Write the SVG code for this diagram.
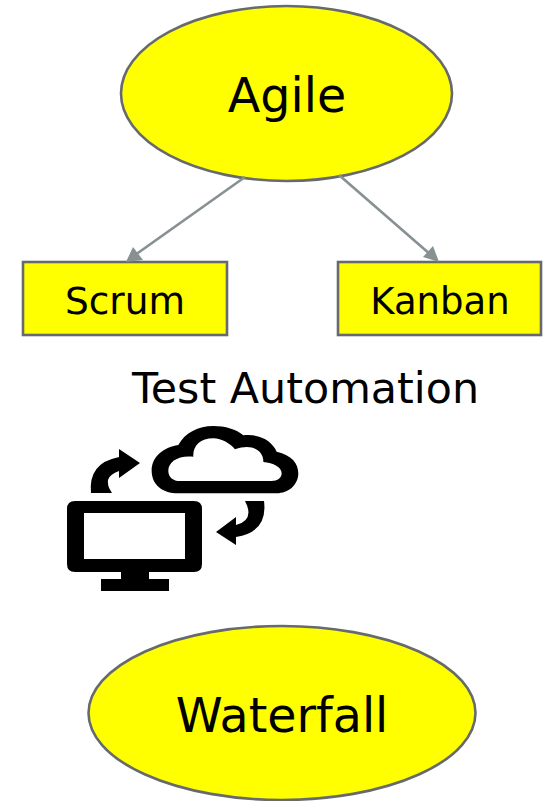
<svg xmlns="http://www.w3.org/2000/svg" width="551" height="801" viewBox="0 0 551 801">
<style>
.n{fill:#ffff00;stroke:#666a6c;stroke-width:2.6}
.t{font-family:"DejaVu Sans",Verdana,sans-serif;fill:#000;text-anchor:middle}
.c{stroke:#879092;stroke-width:2.6;fill:none}
.a{fill:#879092}
</style>
<rect width="551" height="801" fill="#fff"/>
<g id="agile"><ellipse class="n" cx="286.500" cy="93.500" rx="165.500" ry="87.500"/><text class="t" x="287" y="112" font-size="47.500">Agile</text></g>
<g id="scrum"><rect class="n" x="23" y="262" width="204" height="73"/><text class="t" x="125" y="314" font-size="37.500">Scrum</text></g>
<g id="kanban"><rect class="n" x="338" y="262" width="203" height="73"/><text class="t" x="440" y="314" font-size="37">Kanban</text></g>
<g id="connectors">
<line class="c" x1="245" y1="177" x2="135" y2="255"/>
<polygon class="a" points="126,262 133,247 143,260"/>
<line class="c" x1="339" y1="175" x2="431" y2="255"/>
<polygon class="a" points="439,262 423,257 433,246"/>
</g>
<g id="test-automation"><text class="t" x="305.500" y="403" font-size="42.800">Test Automation</text>
<path fill-rule="evenodd" d="M75 501H194Q202 501 202 509V564Q202 572 194 572H149V579H169V591H101V579H121V572H75Q67 572 67 564V509Q67 501 75 501ZM84 513V559H185V513Z"/>
<path d="M91 493Q88 463 119 457V449L140 463L119 478V471Q101 477 112 493Z"/>
<path d="M264 501Q268 532 236 537V545L216 532L236 517V525Q255 520 245 501Z"/>
<g transform="translate(50 410) scale(.3333)"><path fill-rule="evenodd" d="M385 250C335 250 305 222 305 182C305 140 340 112 385 105C405 68 445 48 490 48C525 48 560 58 580 76C630 70 668 95 680 125C725 135 745 160 745 190C745 225 715 250 680 250ZM390 213H665C682 213 695 205 695 190C695 172 670 158 640 156C642 125 610 98 555 118C540 100 515 85 490 85C450 85 428 108 430 140C385 135 355 155 355 182C355 202 370 213 390 213Z"/></g></g>
<g id="waterfall"><ellipse class="n" cx="282" cy="713" rx="193.500" ry="87"/><text class="t" x="282" y="732" font-size="47.500">Waterfall</text></g>
</svg>
